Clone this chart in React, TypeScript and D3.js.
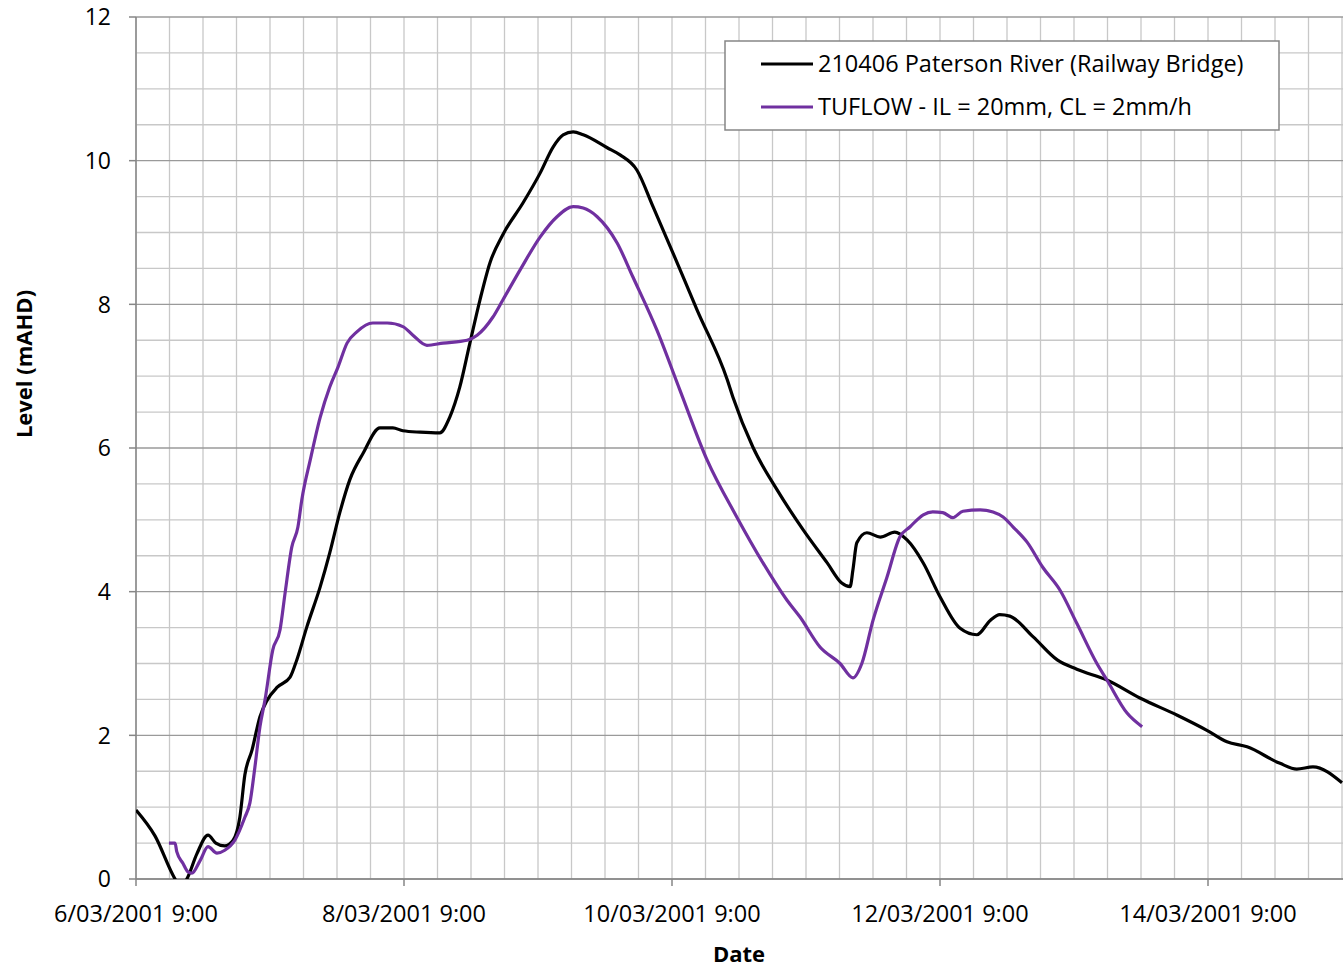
import React from "react";
import * as d3 from "d3";

// hours since 6/03/2001 9:00, level (mAHD)
const observedHours = [0, 3.4, 7.0, 7.9, 9.1, 10.9, 12.9, 14.3, 15.9, 17.4, 18.6, 19.5, 20.8, 22.2, 23.5, 25.3, 27.6, 28.8, 30.6, 33.0, 34.7, 36.5, 38.3, 40.7, 43.7, 46.0, 47.8, 50.9, 54.4, 56.2, 58.0, 59.8, 61.6, 63.4, 65.7, 69.3, 72.4, 74.7, 76.5, 78.3, 80.1, 84.4, 86.7, 89.7, 92.6, 96.2, 100.5, 105.9, 106.9, 110.5, 114.8, 119.5, 123.8, 126.4, 127.9, 128.4, 129.1, 130.9, 133.3, 135.9, 138.1, 141.0, 144.0, 147.6, 150.6, 153.0, 154.7, 156.5, 160.7, 165.0, 168.5, 173.9, 179.8, 186.5, 191.8, 195.4, 199.0, 204.9, 207.9, 210.8, 216.0];
const observedLevels = [0.96, 0.6, 0.0, -0.1, 0.0, 0.35, 0.61, 0.5, 0.46, 0.54, 0.86, 1.45, 1.8, 2.26, 2.49, 2.67, 2.81, 3.05, 3.51, 4.07, 4.54, 5.1, 5.56, 5.93, 6.28, 6.28, 6.24, 6.22, 6.21, 6.43, 6.85, 7.46, 8.06, 8.58, 8.97, 9.41, 9.83, 10.19, 10.36, 10.4, 10.36, 10.18, 10.08, 9.87, 9.36, 8.71, 7.92, 6.95, 6.71, 6.01, 5.42, 4.86, 4.4, 4.12, 4.07, 4.3, 4.68, 4.82, 4.76, 4.83, 4.72, 4.4, 3.93, 3.49, 3.4, 3.6, 3.68, 3.66, 3.37, 3.05, 2.92, 2.77, 2.52, 2.28, 2.07, 1.91, 1.84, 1.61, 1.53, 1.56, 1.34];

const modelHours = [5.9, 7.0, 7.3, 8.4, 9.3, 10.0, 11.5, 12.9, 14.5, 15.9, 17.7, 19.5, 20.4, 21.3, 22.2, 23.1, 24.5, 25.8, 26.7, 27.9, 29.0, 29.7, 31.2, 33.0, 34.7, 36.2, 37.8, 39.6, 42.4, 45.0, 47.8, 49.6, 52.1, 55.0, 59.3, 61.1, 63.9, 65.7, 68.8, 72.4, 75.4, 78.3, 80.1, 82.6, 86.2, 89.0, 93.3, 97.4, 102.3, 107.6, 112.3, 116.6, 118.9, 122.5, 126.1, 128.4, 130.0, 132.0, 134.5, 136.8, 138.6, 141.0, 142.7, 144.5, 146.3, 148.1, 151.2, 153.5, 155.3, 157.1, 159.6, 162.4, 165.5, 168.5, 172.1, 173.9, 177.5, 180.2];
const modelLevels = [0.5, 0.5, 0.38, 0.22, 0.1, 0.08, 0.26, 0.45, 0.36, 0.4, 0.54, 0.86, 1.06, 1.56, 2.12, 2.49, 3.19, 3.47, 3.98, 4.62, 4.9, 5.28, 5.83, 6.43, 6.85, 7.13, 7.46, 7.62, 7.74, 7.74, 7.69, 7.57, 7.43, 7.46, 7.5, 7.57, 7.82, 8.06, 8.48, 8.94, 9.22, 9.36, 9.34, 9.22, 8.85, 8.38, 7.64, 6.81, 5.83, 5.04, 4.4, 3.88, 3.65, 3.23, 3.0, 2.8, 3.0, 3.6, 4.2, 4.76, 4.9, 5.07, 5.11, 5.1, 5.03, 5.12, 5.14, 5.11, 5.04, 4.9, 4.69, 4.34, 4.02, 3.56, 3.0, 2.77, 2.31, 2.12];

const xTickHours = [0, 48, 96, 144, 192];
const xTickLabels = ["6/03/2001 9:00", "8/03/2001 9:00", "10/03/2001 9:00", "12/03/2001 9:00", "14/03/2001 9:00"];
const yTicks = [0, 2, 4, 6, 8, 10, 12];
const seriesNames = ["210406 Paterson River (Railway Bridge)", "TUFLOW - IL = 20mm, CL = 2mm/h"];
const seriesColors = ["#000000", "#7030A0"];

const W = 1343, H = 967;
const L = 136, R = 1342, T = 17, B = 879;
const FONT = "Open Sans, Liberation Sans, sans-serif";

export default function App() {
  const x = d3.scaleLinear().domain([0, 216]).range([L, R]);
  const y = d3.scaleLinear().domain([0, 12]).range([B, T]);
  const minorX = d3.range(0, 216.01, 6);
  const minorY = d3.range(0, 12.01, 0.5);
  const line = d3.line<[number, number]>().x(d => x(d[0])).y(d => y(d[1])).curve(d3.curveMonotoneX);
  const obs = observedHours.map((h, i) => [h, observedLevels[i]] as [number, number]);
  const mod = modelHours.map((h, i) => [h, modelLevels[i]] as [number, number]);

  return (
    <div style={{ position: "absolute", left: 0, top: 0 }}>
      <svg width={W} height={H} style={{ display: "block", background: "#fff" }}>
        <defs>
          <clipPath id="plotclip"><rect x={L} y={T} width={R - L + 2} height={B - T} /></clipPath>
        </defs>
        {minorX.map(h => (
          <line key={"gx" + h} x1={x(h)} x2={x(h)} y1={T} y2={B} stroke="#c8c8c8" strokeWidth={1.3} />
        ))}
        {minorY.map(v => (
          <line key={"gy" + v} x1={L} x2={W} y1={y(v)} y2={y(v)} stroke={v % 2 === 0 ? "#9a9a9a" : "#c8c8c8"} strokeWidth={1.3} />
        ))}
        {/* axes */}
        <line x1={L} x2={L} y1={T} y2={B} stroke="#868686" strokeWidth={1.5} />
        <line x1={L} x2={W} y1={B} y2={B} stroke="#868686" strokeWidth={1.5} />
        {yTicks.map(v => (
          <g key={"yt" + v}>
            <line x1={L - 7} x2={L} y1={y(v)} y2={y(v)} stroke="#868686" strokeWidth={1.5} />
            <text x={L - 25} y={y(v)} dy="0.36em" textAnchor="end" fontFamily={FONT} fontSize={23} fill="#000">{v}</text>
          </g>
        ))}
        {xTickHours.map((h, i) => (
          <g key={"xt" + h}>
            <line x1={x(h)} x2={x(h)} y1={B} y2={B + 7} stroke="#868686" strokeWidth={1.5} />
            <text x={x(h)} y={922} textAnchor="middle" fontFamily={FONT} fontSize={23.5} fill="#000">{xTickLabels[i]}</text>
          </g>
        ))}
        <text x={739} y={962} textAnchor="middle" fontFamily={FONT} fontSize={22} fontWeight="bold">Date</text>
        <text transform={`translate(32,364) rotate(-90)`} textAnchor="middle" fontFamily={FONT} fontSize={22} fontWeight="bold">Level (mAHD)</text>
        <g clipPath="url(#plotclip)">
          <path d={line(obs) || ""} fill="none" stroke={seriesColors[0]} strokeWidth={3.2} strokeLinejoin="round" />
          <path d={line(mod) || ""} fill="none" stroke={seriesColors[1]} strokeWidth={3.2} strokeLinejoin="round" />
        </g>
        {/* legend */}
        <rect x={725} y={41} width={554} height={89} fill="#fff" stroke="#868686" strokeWidth={1.5} />
        {seriesNames.map((n, i) => (
          <g key={n}>
            <line x1={761} x2={813} y1={64 + i * 43} y2={64 + i * 43} stroke={seriesColors[i]} strokeWidth={3.2} />
            <text x={818} y={64 + i * 43} dy="0.36em" fontFamily={FONT} fontSize={23.5} fill="#000">{n}</text>
          </g>
        ))}
      </svg>
    </div>
  );
}
